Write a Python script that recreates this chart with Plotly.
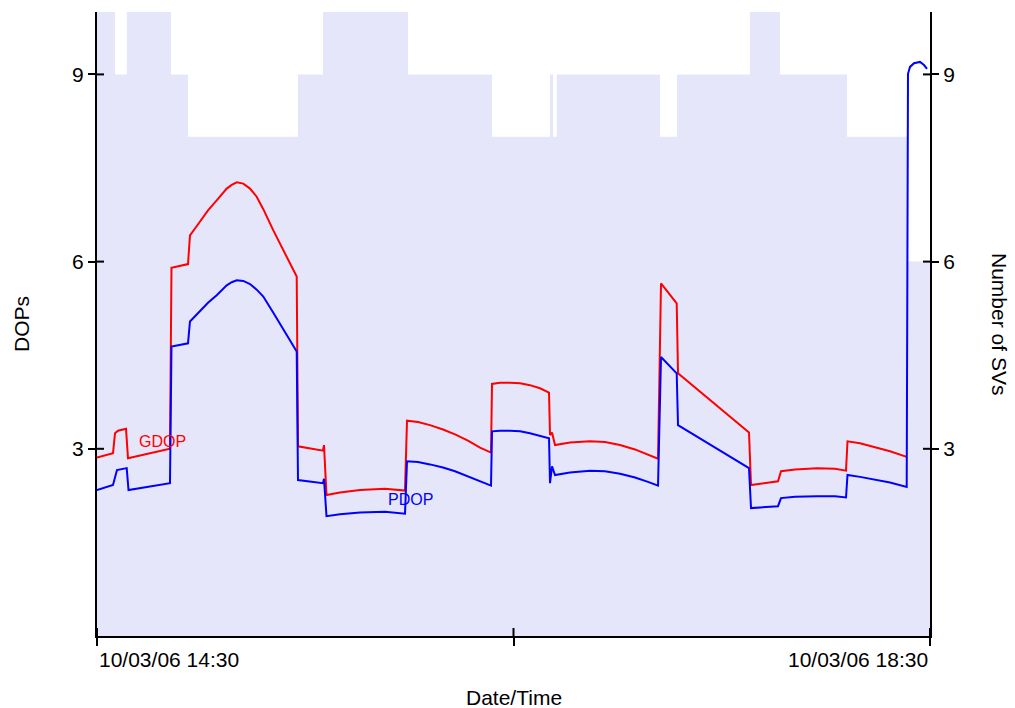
import pandas as pd
import plotly.graph_objects as go

BASE = pd.Timestamp("2006-10-03 14:30")

# Number of SVs (step series): minutes after 14:30, count
sv_min = [0, 5.2, 8.6, 21.3, 26.2, 57.9, 65.1, 89.6, 113.8, 130.5, 131.4, 132.5,
          162.2, 167.1, 188.1, 196.8, 216.1, 233.7, 240]
sv_val = [10, 9, 10, 9, 8, 9, 10, 9, 8, 9, 8, 9, 8, 9, 10, 9, 8, 6, 6]

# GDOP: minutes after 14:30, value
gdop_min = [0, 4.61, 5.19, 6.05, 8.36, 8.93, 21.03, 21.46, 26.22, 26.79, 28.24, 29.68,
            31.98, 34.49, 36.01, 37.37, 38.81, 40.25, 42.15, 44.08, 46.01, 47.91, 50.80,
            53.68, 57.54, 57.91, 65.11, 65.40, 66.12, 70.01, 75.77, 82.98, 88.74, 89.32,
            92.49, 95.94, 99.69, 103.15, 106.89, 110.35, 113.52, 113.81, 116.11, 119.01,
            121.89, 124.75, 127.64, 130.23, 130.52, 131.10, 131.96, 136.28, 142.04,
            146.36, 150.69, 155.01, 158.75, 161.64, 162.50, 167.02, 167.40, 187.85,
            188.43, 196.21, 197.07, 201.11, 207.44, 212.63, 215.80, 216.23, 219.83,
            224.15, 228.48, 233.29]
gdop_val = [2.86, 2.93, 3.25, 3.29, 3.32, 2.85, 3.00, 5.90, 5.96, 6.42, 6.53, 6.64,
            6.82, 6.98, 7.09, 7.17, 7.23, 7.27, 7.25, 7.17, 7.04, 6.84, 6.50,
            6.18, 5.76, 3.04, 2.97, 3.06, 2.26, 2.30, 2.34, 2.36, 2.33, 3.45,
            3.43, 3.38, 3.31, 3.23, 3.13, 3.02, 2.94, 4.04, 4.06, 4.06,
            4.05, 4.02, 3.97, 3.90, 3.22, 3.26, 3.06, 3.10, 3.12,
            3.11, 3.06, 2.99, 2.91, 2.84, 5.65, 5.33, 4.21, 3.26,
            2.42, 2.48, 2.64, 2.67, 2.69, 2.68, 2.65, 3.12, 3.09,
            3.03, 2.96, 2.87]

# PDOP: minutes after 14:30, value
pdop_min = [0, 4.61, 5.76, 8.56, 9.08, 21.03, 21.46, 26.22, 26.79, 29.68, 31.98, 34.49,
            37.37, 38.81, 40.25, 42.15, 44.08, 46.01, 47.91, 50.80, 53.68, 57.54, 57.91,
            65.11, 65.40, 66.12, 70.01, 75.77, 82.98, 88.74, 89.32, 92.49, 95.94, 99.69,
            103.15, 106.89, 110.35, 113.52, 113.81, 116.11, 119.01, 121.89, 124.75,
            127.64, 130.23, 130.52, 131.10, 131.96, 136.28, 142.04, 146.36, 150.69,
            155.01, 158.75, 161.64, 162.50, 167.02, 167.40, 187.85, 188.43, 196.21,
            197.07, 201.11, 207.44, 212.63, 215.80, 216.23, 219.83, 224.15, 228.48,
            233.29, 233.66, 234.24, 235.39, 237.12, 238.27, 239.14]
pdop_val = [2.34, 2.42, 2.66, 2.69, 2.34, 2.45, 4.64, 4.69, 5.04, 5.20, 5.34, 5.46,
            5.62, 5.67, 5.70, 5.69, 5.64, 5.55, 5.44, 5.18, 4.91, 4.56, 2.50,
            2.45, 2.52, 1.92, 1.95, 1.98, 1.99, 1.96, 2.80, 2.79, 2.75, 2.70,
            2.64, 2.56, 2.48, 2.41, 3.28, 3.29, 3.29, 3.28, 3.25,
            3.21, 3.17, 2.45, 2.72, 2.58, 2.62, 2.65, 2.64, 2.60,
            2.54, 2.47, 2.41, 4.47, 4.21, 3.38, 2.69, 2.05, 2.08,
            2.21, 2.23, 2.24, 2.24, 2.22, 2.58, 2.55, 2.51, 2.46,
            2.39, 9.01, 9.12, 9.18, 9.20, 9.15, 9.09]

y_ticks = [3, 6, 9]
x_tick_min = [0, 120, 240]
x_tick_labels = ["10/03/06 14:30", "", "10/03/06 18:30"]


def to_time(mins):
    return BASE + pd.to_timedelta(pd.Series(mins), unit="m")


FONT = "Liberation Sans, Arial, sans-serif"
FS = 21
PLOT_W, PLOT_H = 833, 624
TICK_IN = 7
t_ticks = list(to_time(x_tick_min))
x_range = [t_ticks[0], t_ticks[-1]]

fig = go.Figure()
fig.add_trace(go.Scatter(x=to_time(sv_min), y=sv_val, mode="lines", line_shape="hv",
                         line=dict(width=0), fill="tozeroy",
                         fillcolor="rgb(230,230,250)", yaxis="y", xaxis="x",
                         showlegend=False, hoverinfo="skip"))
fig.add_trace(go.Scatter(x=to_time(gdop_min), y=gdop_val, mode="lines",
                         line=dict(color="#ff0000", width=2), yaxis="y2",
                         showlegend=False))
fig.add_trace(go.Scatter(x=to_time(pdop_min), y=pdop_val, mode="lines",
                         line=dict(color="#0000ff", width=2), yaxis="y2",
                         showlegend=False))

tickfont = dict(family=FONT, size=FS, color="black")
common_y = dict(range=[0, 10], tickvals=y_ticks, showgrid=False, zeroline=False,
                tickwidth=2, ticklen=7, tickcolor="black", fixedrange=True)

fig.update_layout(
    width=1015, height=708,
    margin=dict(l=97, r=85, t=12, b=72),
    paper_bgcolor="white", plot_bgcolor="white",
    xaxis=dict(type="date", range=x_range, tickvals=t_ticks, showticklabels=False,
               ticks="outside", ticklen=8, tickwidth=2, tickcolor="black",
               showline=True, linecolor="black", linewidth=2, showgrid=False,
               zeroline=False),
    yaxis=dict(side="right", ticks="outside", showline=True, linecolor="black",
               linewidth=2, tickfont=tickfont, **common_y),
    yaxis2=dict(side="left", overlaying="y", ticks="outside", showline=True,
                linecolor="black", linewidth=2, tickfont=tickfont, **common_y),
)

# inner halves of the crossing tick marks
shapes = []
for tv in t_ticks:
    shapes.append(dict(type="line", xref="x", yref="paper", x0=tv, x1=tv, y0=0,
                       y1=8 / PLOT_H, line=dict(color="black", width=2), layer="above"))
for yv in y_ticks:
    shapes.append(dict(type="line", xref="paper", yref="y", x0=0, x1=TICK_IN / PLOT_W,
                       y0=yv, y1=yv, line=dict(color="black", width=2), layer="above"))
    shapes.append(dict(type="line", xref="paper", yref="y", x0=1 - TICK_IN / PLOT_W,
                       x1=1, y0=yv, y1=yv, line=dict(color="black", width=2),
                       layer="above"))

ann = []
for tv, lab in zip(t_ticks, x_tick_labels):
    if not lab:
        continue
    ann.append(dict(x=tv, y=0, xref="x", yref="paper", text=lab, showarrow=False,
                    xanchor="left" if tv == t_ticks[0] else "right", yanchor="top",
                    yshift=-10, font=dict(family=FONT, size=FS, color="black")))
ann += [
    dict(x=0.5, y=-0.098, xref="paper", yref="paper", text="Date/Time",
         showarrow=False, xanchor="center", yanchor="middle",
         font=dict(family=FONT, size=FS, color="black")),
    dict(x=-0.0912, y=0.5, xref="paper", yref="paper", text="DOPs", textangle=-90,
         showarrow=False, xanchor="center", yanchor="middle",
         font=dict(family=FONT, size=FS, color="black")),
    dict(x=1.084, y=0.5, xref="paper", yref="paper", text="Number of SVs",
         textangle=90, showarrow=False, xanchor="center", yanchor="middle",
         font=dict(family=FONT, size=FS, color="black")),
    dict(x=BASE + pd.Timedelta(minutes=18.73), y=3.11, xref="x", yref="y2",
         text="GDOP", showarrow=False, font=dict(family=FONT, size=16, color="#ff0000")),
    dict(x=BASE + pd.Timedelta(minutes=90.18), y=2.18, xref="x", yref="y2",
         text="PDOP", showarrow=False, font=dict(family=FONT, size=16, color="#0000ff")),
]
fig.update_layout(annotations=ann, shapes=shapes)

fig.write_html("out.html", config={"displayModeBar": False},
               post_script="document.body.style.margin='0px';")
